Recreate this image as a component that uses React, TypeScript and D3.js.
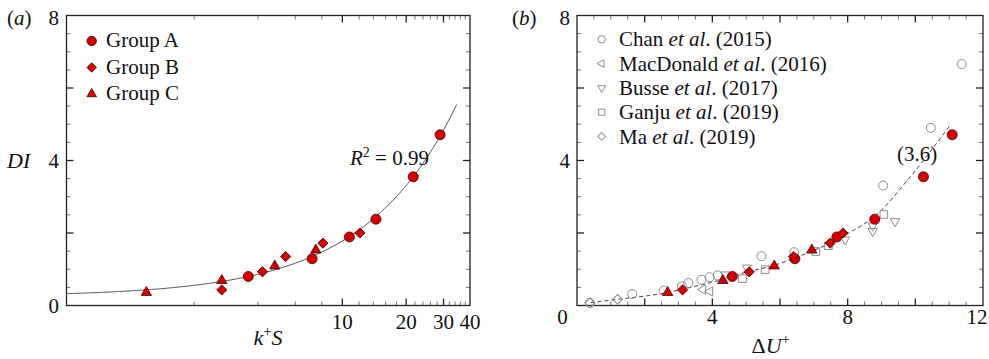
import * as d3 from 'd3';

const FONT = "'Liberation Serif', 'Times New Roman', 'DejaVu Serif', serif";
const RED = '#d40000';
const RED_EDGE = '#4a0000';
const GREY = '#8c8c8c';

// ---- red groups: DI is shared, k+S for panel (a), dU+ for panel (b)
const groupADI = [0.8, 1.29, 1.89, 2.38, 3.55, 4.71];
const groupBDI = [0.43, 0.93, 1.35, 1.72, 2.0];
const groupCDI = [0.36, 0.69, 1.09, 1.53];

const groupAkS = [3.6, 7.2, 10.8, 14.4, 21.6, 28.9];
const groupBkS = [2.7, 4.2, 5.4, 8.1, 12.1];
const groupCkS = [1.19, 2.7, 4.8, 7.5];

const groupAdU = [4.59, 6.44, 7.68, 8.8, 10.24, 11.09];
const groupBdU = [3.12, 5.09, 6.4, 7.48, 7.86];
const groupCdU = [2.68, 4.31, 5.83, 6.94];

// ---- previous studies (grey, panel b)
const chanDU = [0.38, 1.63, 2.56, 3.1, 3.29, 3.68, 3.92, 4.16, 5.45, 6.42, 9.05, 10.46, 11.37];
const chanDI = [0.07, 0.32, 0.41, 0.53, 0.62, 0.71, 0.78, 0.83, 1.36, 1.47, 3.31, 4.9, 6.66];
const macDU = [3.72, 3.93];
const macDI = [0.44, 0.39];
const busseDU = [4.38, 5.02, 7.92, 8.74, 8.74, 9.4];
const busseDI = [0.85, 1.04, 1.82, 2.05, 2.2, 2.32];
const ganjuDU = [4.89, 5.56, 7.06, 7.43, 9.07];
const ganjuDI = [0.74, 0.99, 1.49, 1.65, 2.51];
const maDU = [0.38, 1.2];
const maDI = [0.07, 0.17];

// fit in panel (a): DI = a + b * k+S  (R^2 = 0.99)
const fitCoef = [0.25, 0.153];
const fitRange = [0.5, 35];

// dashed trend in panel (b)
const trendDU = [0.4, 1.2, 2.68, 3.12, 4.3, 5.0, 5.8, 6.4, 7.0, 7.5, 8.0, 8.85, 9.78, 11.05];
const trendDI = [0.08, 0.17, 0.36, 0.45, 0.72, 0.92, 1.1, 1.3, 1.52, 1.72, 1.98, 2.5, 3.47, 5.0];

// ticks
const kSMajor = [10, 20, 30];
const kSMinor = [2, 4, 6, 8, 12, 14, 16, 18, 22, 24, 26, 28, 32, 34, 36, 38];
const kSLabels = [10, 20, 30, 40];
const dUMajor = [2, 4, 6, 8, 10];
const dUMinor = d3.range(0.5, 12, 0.5).filter(v => v % 2 !== 0);
const dULabels = [4, 8, 12];
const DIMajor = [2, 4, 6];
const DIMinor = d3.range(0.5, 8, 0.5).filter(v => v % 2 !== 0);
const DILabels = [0, 4, 8];

const groupNames = ['Group A', 'Group B', 'Group C'];
const studyNames = ['Chan', 'MacDonald', 'Busse', 'Ganju', 'Ma'];
const studyYears = ['2015', '2016', '2017', '2019', '2019'];

type Kind = 'circle' | 'diamond' | 'triangle' | 'down' | 'left' | 'square';

const shape = (kind: Kind, size: number) => {
  const t = kind === 'circle' ? d3.symbolCircle
    : kind === 'diamond' || kind === 'square' ? d3.symbolSquare
    : d3.symbolTriangle;
  return d3.symbol(t, size)() as string;
};
const rot: Record<Kind, number> = { circle: 0, diamond: 45, triangle: 0, down: 180, left: -90, square: 0 };

const zip = (a: number[], b: number[]) => a.map((v, i) => [v, b[i]] as [number, number]);

function Marks({ pts, x, y, kind, size, red }: any) {
  return (
    <g>
      {pts.map(([a, b]: [number, number], i: number) => (
        <path key={i} d={shape(kind, size)}
          transform={`translate(${x(a)},${y(b)}) rotate(${rot[kind as Kind]})`}
          fill={red ? RED : 'none'} stroke={red ? RED_EDGE : GREY} strokeWidth={red ? 0.8 : 1} />
      ))}
    </g>
  );
}

function Frame({ x, y, xMajor, xMinor, yMajor, yMinor }: any) {
  const [x0, x1] = x.range();
  const [y0, y1] = y.range();
  const ticks: JSX.Element[] = [];
  const add = (vals: number[], len: number, major: boolean) => {
    const st = major ? '#222' : '#777';
    const sw = major ? 1.3 : 1;
    vals.forEach(v => {
      const px = x(v);
      ticks.push(<line key={`b${v}${len}`} x1={px} x2={px} y1={y0} y2={y0 - len} stroke={st} strokeWidth={sw} />);
      ticks.push(<line key={`t${v}${len}`} x1={px} x2={px} y1={y1} y2={y1 + len} stroke={st} strokeWidth={sw} />);
    });
  };
  const addY = (vals: number[], len: number, major: boolean) => {
    const st = major ? '#222' : '#777';
    const sw = major ? 1.3 : 1;
    vals.forEach(v => {
      const py = y(v);
      ticks.push(<line key={`l${v}${len}`} x1={x0} x2={x0 + len} y1={py} y2={py} stroke={st} strokeWidth={sw} />);
      ticks.push(<line key={`r${v}${len}`} x1={x1} x2={x1 - len} y1={py} y2={py} stroke={st} strokeWidth={sw} />);
    });
  };
  add(xMinor, 4, false);
  add(xMajor, 7, true);
  addY(yMinor, 4, false);
  addY(yMajor, 7, true);
  return (
    <g>
      {ticks}
      <rect x={x0} y={y1} width={x1 - x0} height={y0 - y1} fill="none" stroke="#222" strokeWidth={1.3} />
    </g>
  );
}

export default function App() {
  const xL = d3.scaleLog().domain([0.5, 40]).range([66.5, 470]);
  const xR = d3.scaleLinear().domain([0, 12]).range([577, 983]);
  const y = d3.scaleLinear().domain([0, 8]).range([305.5, 15.5]);

  const fitPts = d3.range(Math.log10(fitRange[0]), Math.log10(fitRange[1]) + 1e-9, 0.01)
    .map(l => [10 ** l, fitCoef[0] + fitCoef[1] * 10 ** l] as [number, number]);
  const fitPath = d3.line<[number, number]>().x(d => xL(d[0])).y(d => y(d[1]))(fitPts) as string;
  const trendPath = d3.line<[number, number]>().x(d => xR(d[0])).y(d => y(d[1]))
    .curve(d3.curveMonotoneX)(zip(trendDU, trendDI)) as string;

  const legL = [
    { kind: 'circle' as Kind, size: 70 },
    { kind: 'diamond' as Kind, size: 45 },
    { kind: 'triangle' as Kind, size: 40 },
  ];
  const legR: Kind[] = ['circle', 'left', 'down', 'square', 'diamond'];
  const legRSize = [44, 26, 26, 38, 30];

  return (
    <div style={{ position: 'absolute', left: 0, top: 0 }}>
      <svg width={989} height={359} style={{ display: 'block', background: '#fff', fontFamily: FONT }}
        fill="#111">
        {/* panel (a) */}
        <Frame x={xL} y={y} xMajor={kSMajor} xMinor={kSMinor} yMajor={DIMajor} yMinor={DIMinor} />
        <path d={fitPath} fill="none" stroke="#555" strokeWidth={1} />
        <Marks pts={zip(groupAkS, groupADI)} x={xL} y={y} kind="circle" size={80} red />
        <Marks pts={zip(groupBkS, groupBDI)} x={xL} y={y} kind="diamond" size={52} red />
        <Marks pts={zip(groupCkS, groupCDI)} x={xL} y={y} kind="triangle" size={46} red />
        {DILabels.map(v => (
          <text key={v} x={59} y={y(v) + (v === 8 ? 2.5 : 0)} fontSize={21} textAnchor="end"
            dominantBaseline="central">{v}</text>
        ))}
        {kSLabels.map(v => (
          <text key={v} x={xL(v)} y={322} fontSize={21} textAnchor="middle" dominantBaseline="central">{v}</text>
        ))}
        <text x={7} y={24.5} fontSize={21}>(<tspan fontStyle="italic">a</tspan>)</text>
        <text x={7} y={168} fontSize={22} fontStyle="italic">DI</text>
        <text x={268} y={345} fontSize={22} textAnchor="middle">
          <tspan fontStyle="italic">k</tspan>
          <tspan fontSize={15} dy={-9}>+</tspan>
          <tspan fontStyle="italic" dy={9}>S</tspan>
        </text>
        <text x={350} y={165} fontSize={21}>
          <tspan fontStyle="italic">R</tspan>
          <tspan fontSize={14} dy={-8}>2</tspan>
          <tspan dy={8}> = 0.99</tspan>
        </text>
        {groupNames.map((n, i) => (
          <g key={n}>
            <path d={shape(legL[i].kind, legL[i].size)} fill={RED} stroke={RED_EDGE} strokeWidth={0.8}
              transform={`translate(91.7,${41 + i * 26.5}) rotate(${rot[legL[i].kind]})`} />
            <text x={106} y={41 + i * 26.5 + 6} fontSize={21}>{n}</text>
          </g>
        ))}

        {/* panel (b) */}
        <Frame x={xR} y={y} xMajor={dUMajor} xMinor={dUMinor} yMajor={DIMajor} yMinor={DIMinor} />
        <path d={trendPath} fill="none" stroke="#444" strokeWidth={1} strokeDasharray="4 3" />
        <Marks pts={zip(chanDU, chanDI)} x={xR} y={y} kind="circle" size={64} />
        <Marks pts={zip(macDU, macDI)} x={xR} y={y} kind="left" size={38} />
        <Marks pts={zip(busseDU, busseDI)} x={xR} y={y} kind="down" size={38} />
        <Marks pts={zip(ganjuDU, ganjuDI)} x={xR} y={y} kind="square" size={58} />
        <Marks pts={zip(maDU, maDI)} x={xR} y={y} kind="diamond" size={48} />
        <Marks pts={zip(groupAdU, groupADI)} x={xR} y={y} kind="circle" size={80} red />
        <Marks pts={zip(groupBdU, groupBDI)} x={xR} y={y} kind="diamond" size={52} red />
        <Marks pts={zip(groupCdU, groupCDI)} x={xR} y={y} kind="triangle" size={46} red />
        {DILabels.filter(v => v > 0).map(v => (
          <text key={v} x={570} y={y(v) + (v === 8 ? 2.5 : 0)} fontSize={21} textAnchor="end"
            dominantBaseline="central">{v}</text>
        ))}
        <text x={562.5} y={317} fontSize={21} textAnchor="middle" dominantBaseline="central">0</text>
        {dULabels.map(v => (
          <text key={v} x={xR(v) - (v === 12 ? 6 : 0)} y={317} fontSize={21} textAnchor="middle"
            dominantBaseline="central">{v}</text>
        ))}
        <text x={512} y={24.5} fontSize={21}>(<tspan fontStyle="italic">b</tspan>)</text>
        <text x={897} y={161} fontSize={21}>(3.6)</text>
        <text x={751.5} y={353} fontSize={22}>
          <tspan>Δ</tspan>
          <tspan fontStyle="italic">U</tspan>
          <tspan fontSize={15} dy={-9}>+</tspan>
        </text>
        {studyNames.map((n, i) => (
          <g key={n}>
            <path d={shape(legR[i], legRSize[i])} fill="none" stroke={GREY} strokeWidth={1}
              transform={`translate(601.7,${39.3 + i * 24.3}) rotate(${rot[legR[i]]})`} />
            <text x={619} y={39.3 + i * 24.3 + 7} fontSize={21}>
              {n} <tspan fontStyle="italic">et al</tspan>. ({studyYears[i]})
            </text>
          </g>
        ))}
      </svg>
    </div>
  );
}
